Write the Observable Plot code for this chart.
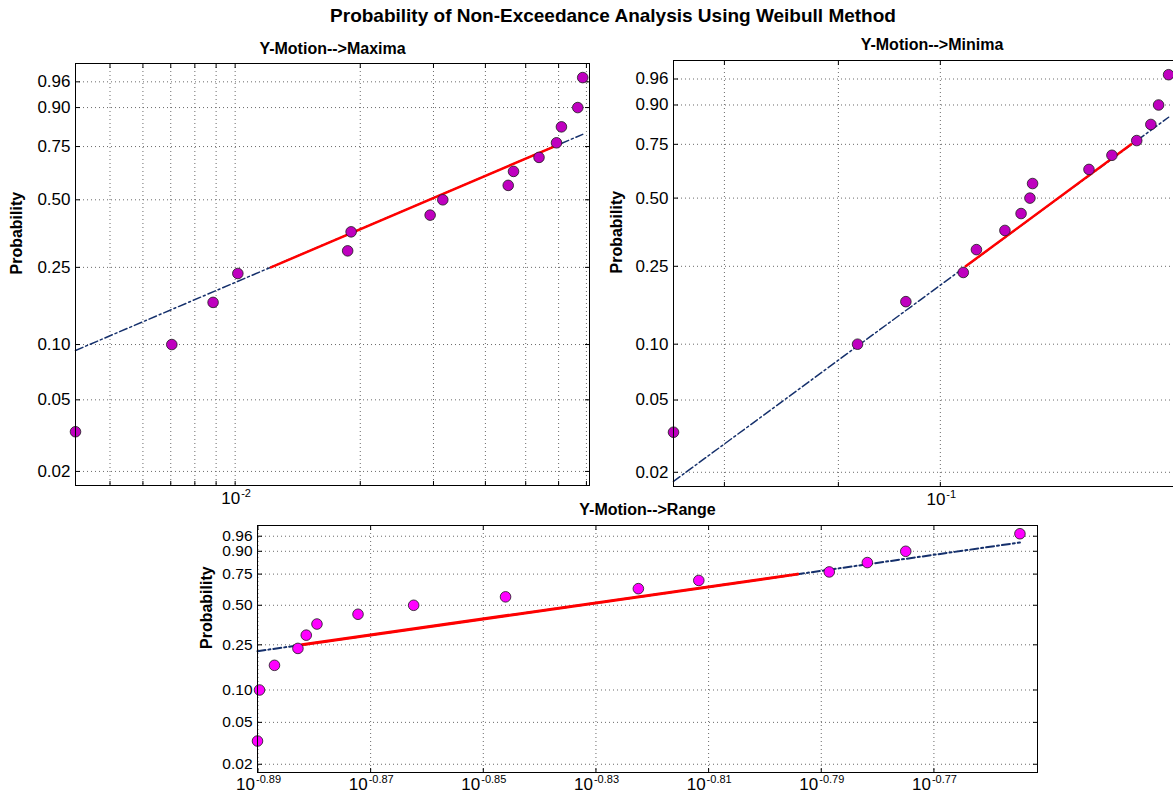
<!DOCTYPE html>
<html>
<head>
<meta charset="utf-8">
<script src="https://cdn.jsdelivr.net/npm/d3@7"></script>
<script src="https://cdn.jsdelivr.net/npm/@observablehq/plot@0.6"></script>
<style>
  html, body { margin: 0; padding: 0; background: #fff; }
  #fig { position: relative; width: 1173px; height: 801px; overflow: hidden; background: #fff;
         font-family: "Liberation Sans", Arial, sans-serif; color: #000; }
  #title { position: absolute; left: 163px; width: 900px; top: 5px; text-align: center;
           font-weight: bold; font-size: 19px; line-height: 22px; }
  .panel { position: absolute; top: 0; }
  .panel svg { max-width: none; }
</style>
</head>
<body>
<div id="fig">
  <div id="title">Probability of Non-Exceedance Analysis Using Weibull Method</div>
</div>
<script>
// ---------- data ----------
const probabilityTicks = [0.02, 0.05, 0.10, 0.25, 0.50, 0.75, 0.90, 0.96];
const probabilityTickLabels = ["0.02", "0.05", "0.10", "0.25", "0.50", "0.75", "0.90", "0.96"];
const probabilityLimits = [0.01668, 0.9832];
const plottingPositions = [0.0333, 0.1000, 0.1667, 0.2333, 0.3000, 0.3667, 0.4333, 0.5000,
                           0.5667, 0.6333, 0.7000, 0.7667, 0.8333, 0.9000, 0.9667];

// Y-Motion --> Maxima
const maximaValues = [0.00413, 0.00704, 0.00885, 0.01015, 0.01865, 0.01901, 0.02945, 0.03159,
                      0.04539, 0.04674, 0.05383, 0.05931, 0.06095, 0.06672, 0.06857];
const maximaFitX = [0.00413, 0.01219, 0.0585, 0.06857];
const maximaFitP = [0.0929, 0.25, 0.75, 0.8032];
const maximaXLimits = [0.00413, 0.0712];
const maximaGridTicks = [0.005, 0.006, 0.007, 0.008, 0.009, 0.01, 0.02, 0.03, 0.04, 0.05, 0.06, 0.07];
const maximaLabelTicks = [0.01];
const maximaLabelExponents = ["-2"];

// Y-Motion --> Minima
const minimaValues = [0.0759, 0.0918, 0.0965, 0.1024, 0.1038, 0.1069, 0.1087, 0.1097,
                      0.1100, 0.1166, 0.1194, 0.1225, 0.1243, 0.1253, 0.1266];
const minimaFitX = [0.0759, 0.10265, 0.1218, 0.1266];
const minimaFitP = [0.0178, 0.25, 0.75, 0.860];
const minimaXLimits = [0.0759, 0.1295];
const minimaGridTicks = [0.08, 0.09, 0.1];
const minimaLabelTicks = [0.1];
const minimaLabelExponents = ["-1"];

// Y-Motion --> Range
const rangeValues = [0.12880, 0.128905, 0.129697, 0.130946, 0.131393, 0.131969, 0.134202, 0.137290,
                     0.142545, 0.150498, 0.154262, 0.162712, 0.165265, 0.167880, 0.175902];
const rangeFitX = [0.12880, 0.13116, 0.16062, 0.175902];
const rangeFitP = [0.221, 0.25, 0.75, 0.939];
const rangeXLimits = [0.12880, 0.17717];
const rangeTickExponents = ["-0.89", "-0.87", "-0.85", "-0.83", "-0.81", "-0.79", "-0.77"];

// ---------- helpers ----------
const FONT = '"Liberation Sans", Arial, sans-serif';
const BLUE = "#15306c";
const wb = p => Math.log(-Math.log(1 - p));   // Weibull probability-paper transform

function makePanel(cfg) {
  const pts = cfg.values.map((v, i) => ({x: v, p: plottingPositions[i]}));
  const fit = cfg.fitX.map((x, i) => ({x, p: cfg.fitP[i]}));
  const yTicks = probabilityTicks.map(wb);
  const yLabel = new Map(yTicks.map((w, i) => [w, probabilityTickLabels[i]]));
  const grid = {stroke: "#6a6a6a", strokeOpacity: 1, strokeWidth: 1, strokeDasharray: "1,3"};
  return Plot.plot({
    width: cfg.width, height: cfg.height,
    marginLeft: cfg.ml, marginRight: cfg.mr, marginTop: cfg.mt, marginBottom: cfg.mb,
    style: {background: "none", fontFamily: FONT, color: "#000", overflow: "visible"},
    x: {type: "log", domain: cfg.xLimits},
    y: {type: "linear", domain: probabilityLimits.map(wb)},
    marks: [
      Plot.gridX(cfg.gridTicks, grid),
      Plot.gridY(yTicks, grid),
      Plot.axisY(yTicks, {anchor: "left", tickSize: 0, tickPadding: 5, fontSize: cfg.tickFont,
                          tickFormat: w => yLabel.get(w), label: null}),
      Plot.axisY(yTicks, {anchor: "left", tickSize: -5, tickFormat: () => "", label: null}),
      Plot.axisY(yTicks, {anchor: "right", tickSize: -5, tickFormat: () => "", label: null}),
      Plot.axisX(cfg.gridTicks, {anchor: "bottom", tickSize: -4, tickFormat: () => "", label: null}),
      Plot.axisX(cfg.gridTicks, {anchor: "top", tickSize: -4, tickFormat: () => "", label: null}),
      Plot.line([fit[0], fit[3]], {x: "x", y: d => wb(d.p), stroke: BLUE,
                                   strokeWidth: cfg.blueW, strokeDasharray: "8,3,2,3"}),
      Plot.line([fit[1], fit[2]], {x: "x", y: d => wb(d.p), stroke: "#ff0000", strokeWidth: cfg.redW}),
      Plot.dot(pts, {x: "x", y: d => wb(d.p), r: 5.3, fill: cfg.fill, stroke: "#1a1a1a", strokeWidth: 0.8}),
      Plot.frame({stroke: "#000", strokeWidth: 1}),
      Plot.text([cfg.title], {frameAnchor: "top", dy: cfg.titleDy, fontWeight: "bold", fontSize: 16}),
      Plot.text(["Probability"], {frameAnchor: "left", rotate: -90, dx: cfg.ylabDx,
                                  fontWeight: "bold", fontSize: 16}),
      Plot.text(cfg.labelTicks, {x: d => d, frameAnchor: "bottom", dy: cfg.tenDy, dx: cfg.tenDx,
                                 text: () => "10", textAnchor: "end", fontSize: 17}),
      Plot.text(cfg.labelTicks, {x: d => d, frameAnchor: "bottom", dy: cfg.expDy, dx: cfg.tenDx + 1,
                                 text: (d, i) => cfg.labelExps[i], textAnchor: "start", fontSize: 11})
    ]
  });
}

function place(node, left, top) {
  const div = document.createElement("div");
  div.className = "panel";
  div.style.left = left + "px";
  div.style.top = top + "px";
  div.appendChild(node);
  document.getElementById("fig").appendChild(div);
}

place(makePanel({
  values: maximaValues, fitX: maximaFitX, fitP: maximaFitP, xLimits: maximaXLimits,
  gridTicks: maximaGridTicks, labelTicks: maximaLabelTicks, labelExps: maximaLabelExponents,
  title: "Y-Motion-->Maxima", fill: "#bf00bf", blueW: 1.5, redW: 2.5, tickFont: 17,
  width: 600, height: 530, ml: 75, mr: 11, mt: 63, mb: 45,
  titleDy: -21, ylabDx: -59, tenDy: 18, tenDx: 5, expDy: 11
}), 0, 0);

place(makePanel({
  values: minimaValues, fitX: minimaFitX, fitP: minimaFitP, xLimits: minimaXLimits,
  gridTicks: minimaGridTicks, labelTicks: minimaLabelTicks, labelExps: minimaLabelExponents,
  title: "Y-Motion-->Minima", fill: "#bf00bf", blueW: 1.5, redW: 2.5, tickFont: 17,
  width: 600, height: 530, ml: 73, mr: 10, mt: 60, mb: 44,
  titleDy: -22, ylabDx: -57, tenDy: 18, tenDx: 5, expDy: 11
}), 600, 0);

place(makePanel({
  values: rangeValues, fitX: rangeFitX, fitP: rangeFitP, xLimits: rangeXLimits,
  gridTicks: rangeTickExponents.map(e => 10 ** (+e)),
  labelTicks: rangeTickExponents.map(e => 10 ** (+e)), labelExps: rangeTickExponents,
  title: "Y-Motion-->Range", fill: "#ff00ff", blueW: 2, redW: 3, tickFont: 15.5,
  width: 870, height: 321, ml: 77, mr: 13, mt: 45, mb: 29,
  titleDy: -22, ylabDx: -51, tenDy: 17, tenDx: -3, expDy: 10
}), 180, 480);
</script>
</body>
</html>
